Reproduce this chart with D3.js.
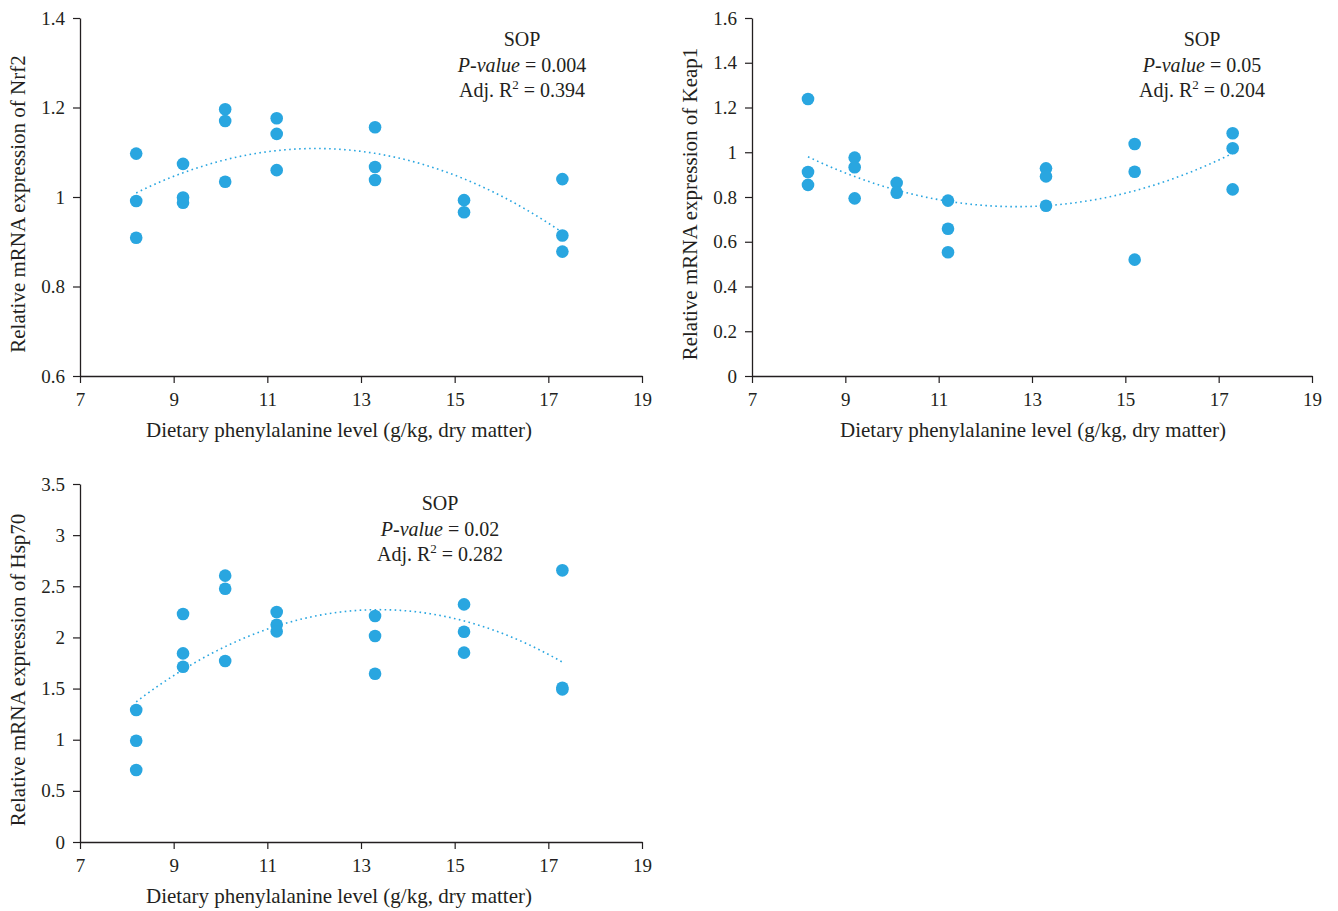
<!DOCTYPE html>
<html>
<head>
<meta charset="utf-8">
<script src="https://cdn.jsdelivr.net/npm/d3@7"></script>
<style>
  body { margin: 0; background: #fff; }
  svg { display: block; }
  text { font-family: "Liberation Serif", "Times New Roman", serif; fill: #231f20; }
</style>
</head>
<body>
<svg id="chart" width="1338" height="911"></svg>
<script>
// dietary Phe levels (g/kg) for each replicate
const xNrf2 = [8.2, 8.2, 8.2, 9.2, 9.2, 9.2, 10.1, 10.1, 10.1, 11.2, 11.2, 11.2, 13.3, 13.3, 13.3, 15.2, 15.2, 17.3, 17.3, 17.3];
const yNrf2 = [1.097, 0.991, 0.909, 1.074, 0.999, 0.987, 1.196, 1.170, 1.034, 1.176, 1.141, 1.060, 1.156, 1.067, 1.038, 0.993, 0.966, 1.040, 0.914, 0.878];

const xKeap1 = [8.2, 8.2, 8.2, 9.2, 9.2, 9.2, 10.1, 10.1, 11.2, 11.2, 11.2, 13.3, 13.3, 13.3, 15.2, 15.2, 15.2, 17.3, 17.3, 17.3];
const yKeap1 = [1.238, 0.912, 0.854, 0.976, 0.933, 0.794, 0.863, 0.819, 0.784, 0.658, 0.553, 0.928, 0.892, 0.761, 1.037, 0.913, 0.520, 1.085, 1.018, 0.834];

const xHsp70 = [8.2, 8.2, 8.2, 9.2, 9.2, 9.2, 10.1, 10.1, 10.1, 11.2, 11.2, 11.2, 13.3, 13.3, 13.3, 15.2, 15.2, 15.2, 17.3, 17.3, 17.3];
const yHsp70 = [1.290, 0.990, 0.704, 2.229, 1.844, 1.714, 2.604, 2.476, 1.769, 2.248, 2.124, 2.059, 2.209, 2.014, 1.645, 2.323, 2.056, 1.851, 2.656, 1.508, 1.492];

const xTicks = [7, 9, 11, 13, 15, 17, 19];
const xTitle = "Dietary phenylalanine level (g/kg, dry matter)";

const panels = [
  { gene: "Nrf2", xs: xNrf2, ys: yNrf2, yDomain: [0.6, 1.4], yTicks: [0.6, 0.8, 1, 1.2, 1.4],
    p: "0.004", r2: "0.394", left: 80, top: 18, w: 562, h: 358, noteX: 442, noteY: 28, titleX: 259 },
  { gene: "Keap1", xs: xKeap1, ys: yKeap1, yDomain: [0, 1.6], yTicks: [0, 0.2, 0.4, 0.6, 0.8, 1, 1.2, 1.4, 1.6],
    p: "0.05", r2: "0.204", left: 752, top: 18, w: 560, h: 358, noteX: 450, noteY: 28, titleX: 281 },
  { gene: "Hsp70", xs: xHsp70, ys: yHsp70, yDomain: [0, 3.5], yTicks: [0, 0.5, 1, 1.5, 2, 2.5, 3, 3.5],
    p: "0.02", r2: "0.282", left: 80, top: 484, w: 562, h: 358, noteX: 360, noteY: 26, titleX: 259 }
];

// second order least squares, like the spreadsheet trendline
function quadFit(xs, ys) {
  let s = [0, 0, 0, 0, 0], t = [0, 0, 0];
  xs.forEach((x, i) => {
    for (let k = 0; k < 5; k++) s[k] += Math.pow(x, k);
    for (let k = 0; k < 3; k++) t[k] += ys[i] * Math.pow(x, k);
  });
  const m = [[s[0], s[1], s[2], t[0]], [s[1], s[2], s[3], t[1]], [s[2], s[3], s[4], t[2]]];
  for (let i = 0; i < 3; i++) {
    for (let j = i + 1; j < 3; j++) {
      const f = m[j][i] / m[i][i];
      for (let k = i; k < 4; k++) m[j][k] -= f * m[i][k];
    }
  }
  const c = [0, 0, 0];
  for (let i = 2; i >= 0; i--) {
    let v = m[i][3];
    for (let k = i + 1; k < 3; k++) v -= m[i][k] * c[k];
    c[i] = v / m[i][i];
  }
  return x => c[0] + c[1] * x + c[2] * x * x;
}

const svg = d3.select("#chart");
const dotColor = "#29a6e0";
const fmt = d => String(d);

panels.forEach(pn => {
  const g = svg.append("g").attr("transform", `translate(${pn.left},${pn.top})`);
  const x = d3.scaleLinear().domain([7, 19]).range([0, pn.w]);
  const y = d3.scaleLinear().domain(pn.yDomain).range([pn.h, 0]);

  const xa = g.append("g").attr("transform", `translate(0,${pn.h})`)
    .call(d3.axisBottom(x).tickValues(xTicks).tickFormat(fmt).tickSize(7).tickSizeOuter(0));
  const ya = g.append("g")
    .call(d3.axisLeft(y).tickValues(pn.yTicks).tickFormat(fmt).tickSize(7).tickSizeOuter(0));
  [xa, ya].forEach(a => {
    a.select(".domain").attr("stroke", "#231f20").attr("stroke-width", 1.3);
    a.selectAll(".tick line").attr("stroke", "#231f20").attr("stroke-width", 1.2);
    a.selectAll(".tick text").style("font-family", "Liberation Serif, serif")
      .style("font-size", "19px").attr("fill", "#231f20");
  });
  xa.selectAll(".tick text").attr("dy", "1.05em");
  ya.selectAll(".tick text").attr("x", -15);

  // trendline
  const f = quadFit(pn.xs, pn.ys);
  const xmin = d3.min(pn.xs), xmax = d3.max(pn.xs);
  const line = d3.line().x(d => x(d)).y(d => y(f(d)));
  g.append("path")
    .datum(d3.range(0, 101).map(i => xmin + (xmax - xmin) * i / 100))
    .attr("d", line)
    .attr("fill", "none")
    .attr("stroke", dotColor)
    .attr("stroke-width", 1.6)
    .attr("stroke-dasharray", "1.6,3.4");

  g.selectAll("circle.pt")
    .data(pn.xs.map((v, i) => [v, pn.ys[i]]))
    .enter().append("circle")
    .attr("class", "pt")
    .attr("cx", d => x(d[0]))
    .attr("cy", d => y(d[1]))
    .attr("r", 6.3)
    .attr("fill", dotColor);

  // axis titles
  g.append("text")
    .attr("x", pn.titleX)
    .attr("y", pn.h + 61)
    .attr("text-anchor", "middle")
    .style("font-size", "21px")
    .text(xTitle);
  g.append("text")
    .attr("transform", `translate(-55,186) rotate(-90)`)
    .attr("text-anchor", "middle")
    .style("font-size", "21px")
    .text("Relative mRNA expression of " + pn.gene);

  // stats note
  const note = g.append("g").attr("transform", `translate(${pn.noteX},${pn.noteY})`)
    .style("font-size", "20px").attr("text-anchor", "middle");
  note.append("text").attr("y", 0).text("SOP");
  const t2 = note.append("text").attr("y", 25.5);
  t2.append("tspan").style("font-style", "italic").text("P-value");
  t2.append("tspan").text(" = " + pn.p);
  const t3 = note.append("text").attr("y", 51);
  t3.append("tspan").text("Adj. R");
  t3.append("tspan").attr("dy", -8).style("font-size", "13px").text("2");
  t3.append("tspan").attr("dy", 8).text(" = " + pn.r2);
});
</script>
</body>
</html>
